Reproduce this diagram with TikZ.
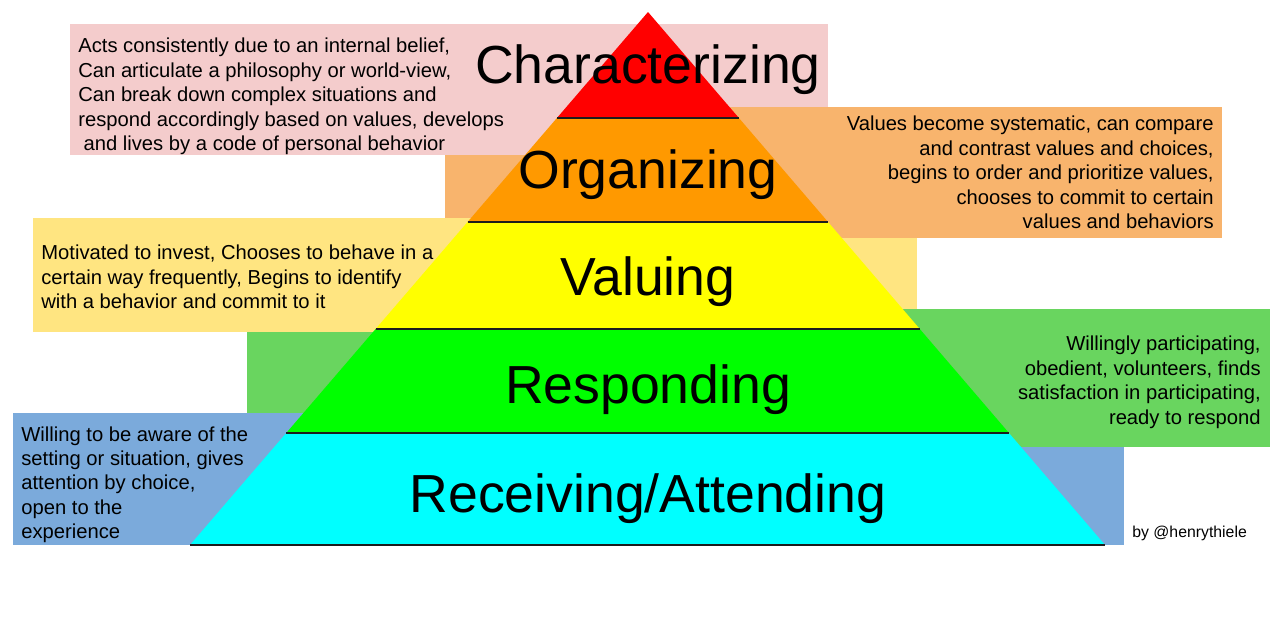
\documentclass[tikz,border=0pt]{standalone}
\usepackage{fontspec}
\setmainfont{Liberation Sans}
\usepackage{tikz}
\usetikzlibrary{calc}

\definecolor{pinkbox}{HTML}{F4CCCC}
\definecolor{orangebox}{HTML}{F8B46D}
\definecolor{yellowbox}{HTML}{FFE581}
\definecolor{greenbox}{HTML}{69D55F}
\definecolor{bluebox}{HTML}{7BAADB}
\definecolor{sepline}{HTML}{1C1C1C}
\definecolor{levelred}{HTML}{FF0000}
\definecolor{levelorange}{HTML}{FF9900}
\definecolor{levelyellow}{HTML}{FFFF00}
\definecolor{levelgreen}{HTML}{00FF00}
\definecolor{levelcyan}{HTML}{00FFFF}

\begin{document}
\begin{tikzpicture}[
    x=0.02cm, y=-0.02cm,
    level/.style={font=\fontsize{30.5}{36}\selectfont, anchor=base, inner sep=0pt},
    desc/.style={font=\fontsize{11.5}{13.9}\selectfont, inner sep=0pt},
    sep/.style={draw=sepline, line width=1.1pt}
]
\useasboundingbox[fill=white] (0,0) rectangle (1280,632);

% boxes behind the pyramid
\fill[pinkbox] (70,24) rectangle (828,155);
\fill[yellowbox] (33,218) rectangle (917,332);
\fill[bluebox] (13,413) rectangle (1124,545);
\fill[orangebox] (445,107) rectangle (1222,238);
\fill[greenbox] (247,309) rectangle (1270,447);
% left boxes stay on top at the left
\fill[pinkbox] (70,24) rectangle (648,155);
\fill[yellowbox] (33,218) rectangle (648,332);
\fill[bluebox] (13,413) rectangle (648,545);

% Pyramid
\coordinate (apex) at (648,12);
\coordinate (bl) at (190,545);
\coordinate (br) at (1105,545);
\coordinate (l1) at ($(apex)!0.1989!(bl)$);
\coordinate (r1) at ($(apex)!0.1989!(br)$);
\coordinate (l2) at ($(apex)!0.394!(bl)$);
\coordinate (r2) at ($(apex)!0.394!(br)$);
\coordinate (l3) at ($(apex)!0.5947!(bl)$);
\coordinate (r3) at ($(apex)!0.5947!(br)$);
\coordinate (l4) at ($(apex)!0.7899!(bl)$);
\coordinate (r4) at ($(apex)!0.7899!(br)$);

\fill[levelred] (apex) -- (r1) -- (l1) -- cycle;
\fill[levelorange] (l1) -- (r1) -- (r2) -- (l2) -- cycle;
\fill[levelyellow] (l2) -- (r2) -- (r3) -- (l3) -- cycle;
\fill[levelgreen] (l3) -- (r3) -- (r4) -- (l4) -- cycle;
\fill[levelcyan] (l4) -- (r4) -- (br) -- (bl) -- cycle;

\draw[sep] (l1) -- (r1);
\draw[sep] (l2) -- (r2);
\draw[sep] (l3) -- (r3);
\draw[sep] (l4) -- (r4);
\draw[sep] (bl) -- (br);

% Level names
\node[level] (characterizing) at (648,83) {Characterizing};
\node[level] (organizing) at (648,188) {Organizing};
\node[level] (valuing) at (648,295) {Valuing};
\node[level] (responding) at (648,403) {Responding};
\node[level] (receiving) at (648,512) {Receiving/Attending};

% Characterizing
\node[desc, anchor=north west, align=left] (charText) at (78,38) {
  Acts consistently due to an internal belief,\\
  Can articulate a philosophy or world-view,\\
  Can break down complex situations and\\
  respond accordingly based on values, develops\\
  \hspace*{3pt}and lives by a code of personal behavior
};

% Organizing
\node[desc, anchor=north east, align=right] (orgText) at (1214,116) {
  Values become systematic, can compare\\
  and contrast values and choices,\\
  begins to order and prioritize values,\\
  chooses to commit to certain\\
  values and behaviors
};

% Valuing
\node[desc, anchor=north west, align=left] (valText) at (41,245) {
  Motivated to invest, Chooses to behave in a\\
  certain way frequently, Begins to identify\\
  with a behavior and commit to it
};

% Responding
\node[desc, anchor=north east, align=right] (respText) at (1261,336) {
  Willingly participating,\\
  obedient, volunteers, finds\\
  satisfaction in participating,\\
  ready to respond
};

% Receiving/Attending
\node[desc, anchor=north west, align=left] (recText) at (21,426) {
  Willing to be aware of the\\
  setting or situation, gives\\
  attention by choice,\\
  open to the\\
  experience
};

% credit
\node[font=\fontsize{9}{11}\selectfont, anchor=base west, inner sep=0pt] (credit) at (1132,537) {by @henrythiele};

\end{tikzpicture}
\end{document}
